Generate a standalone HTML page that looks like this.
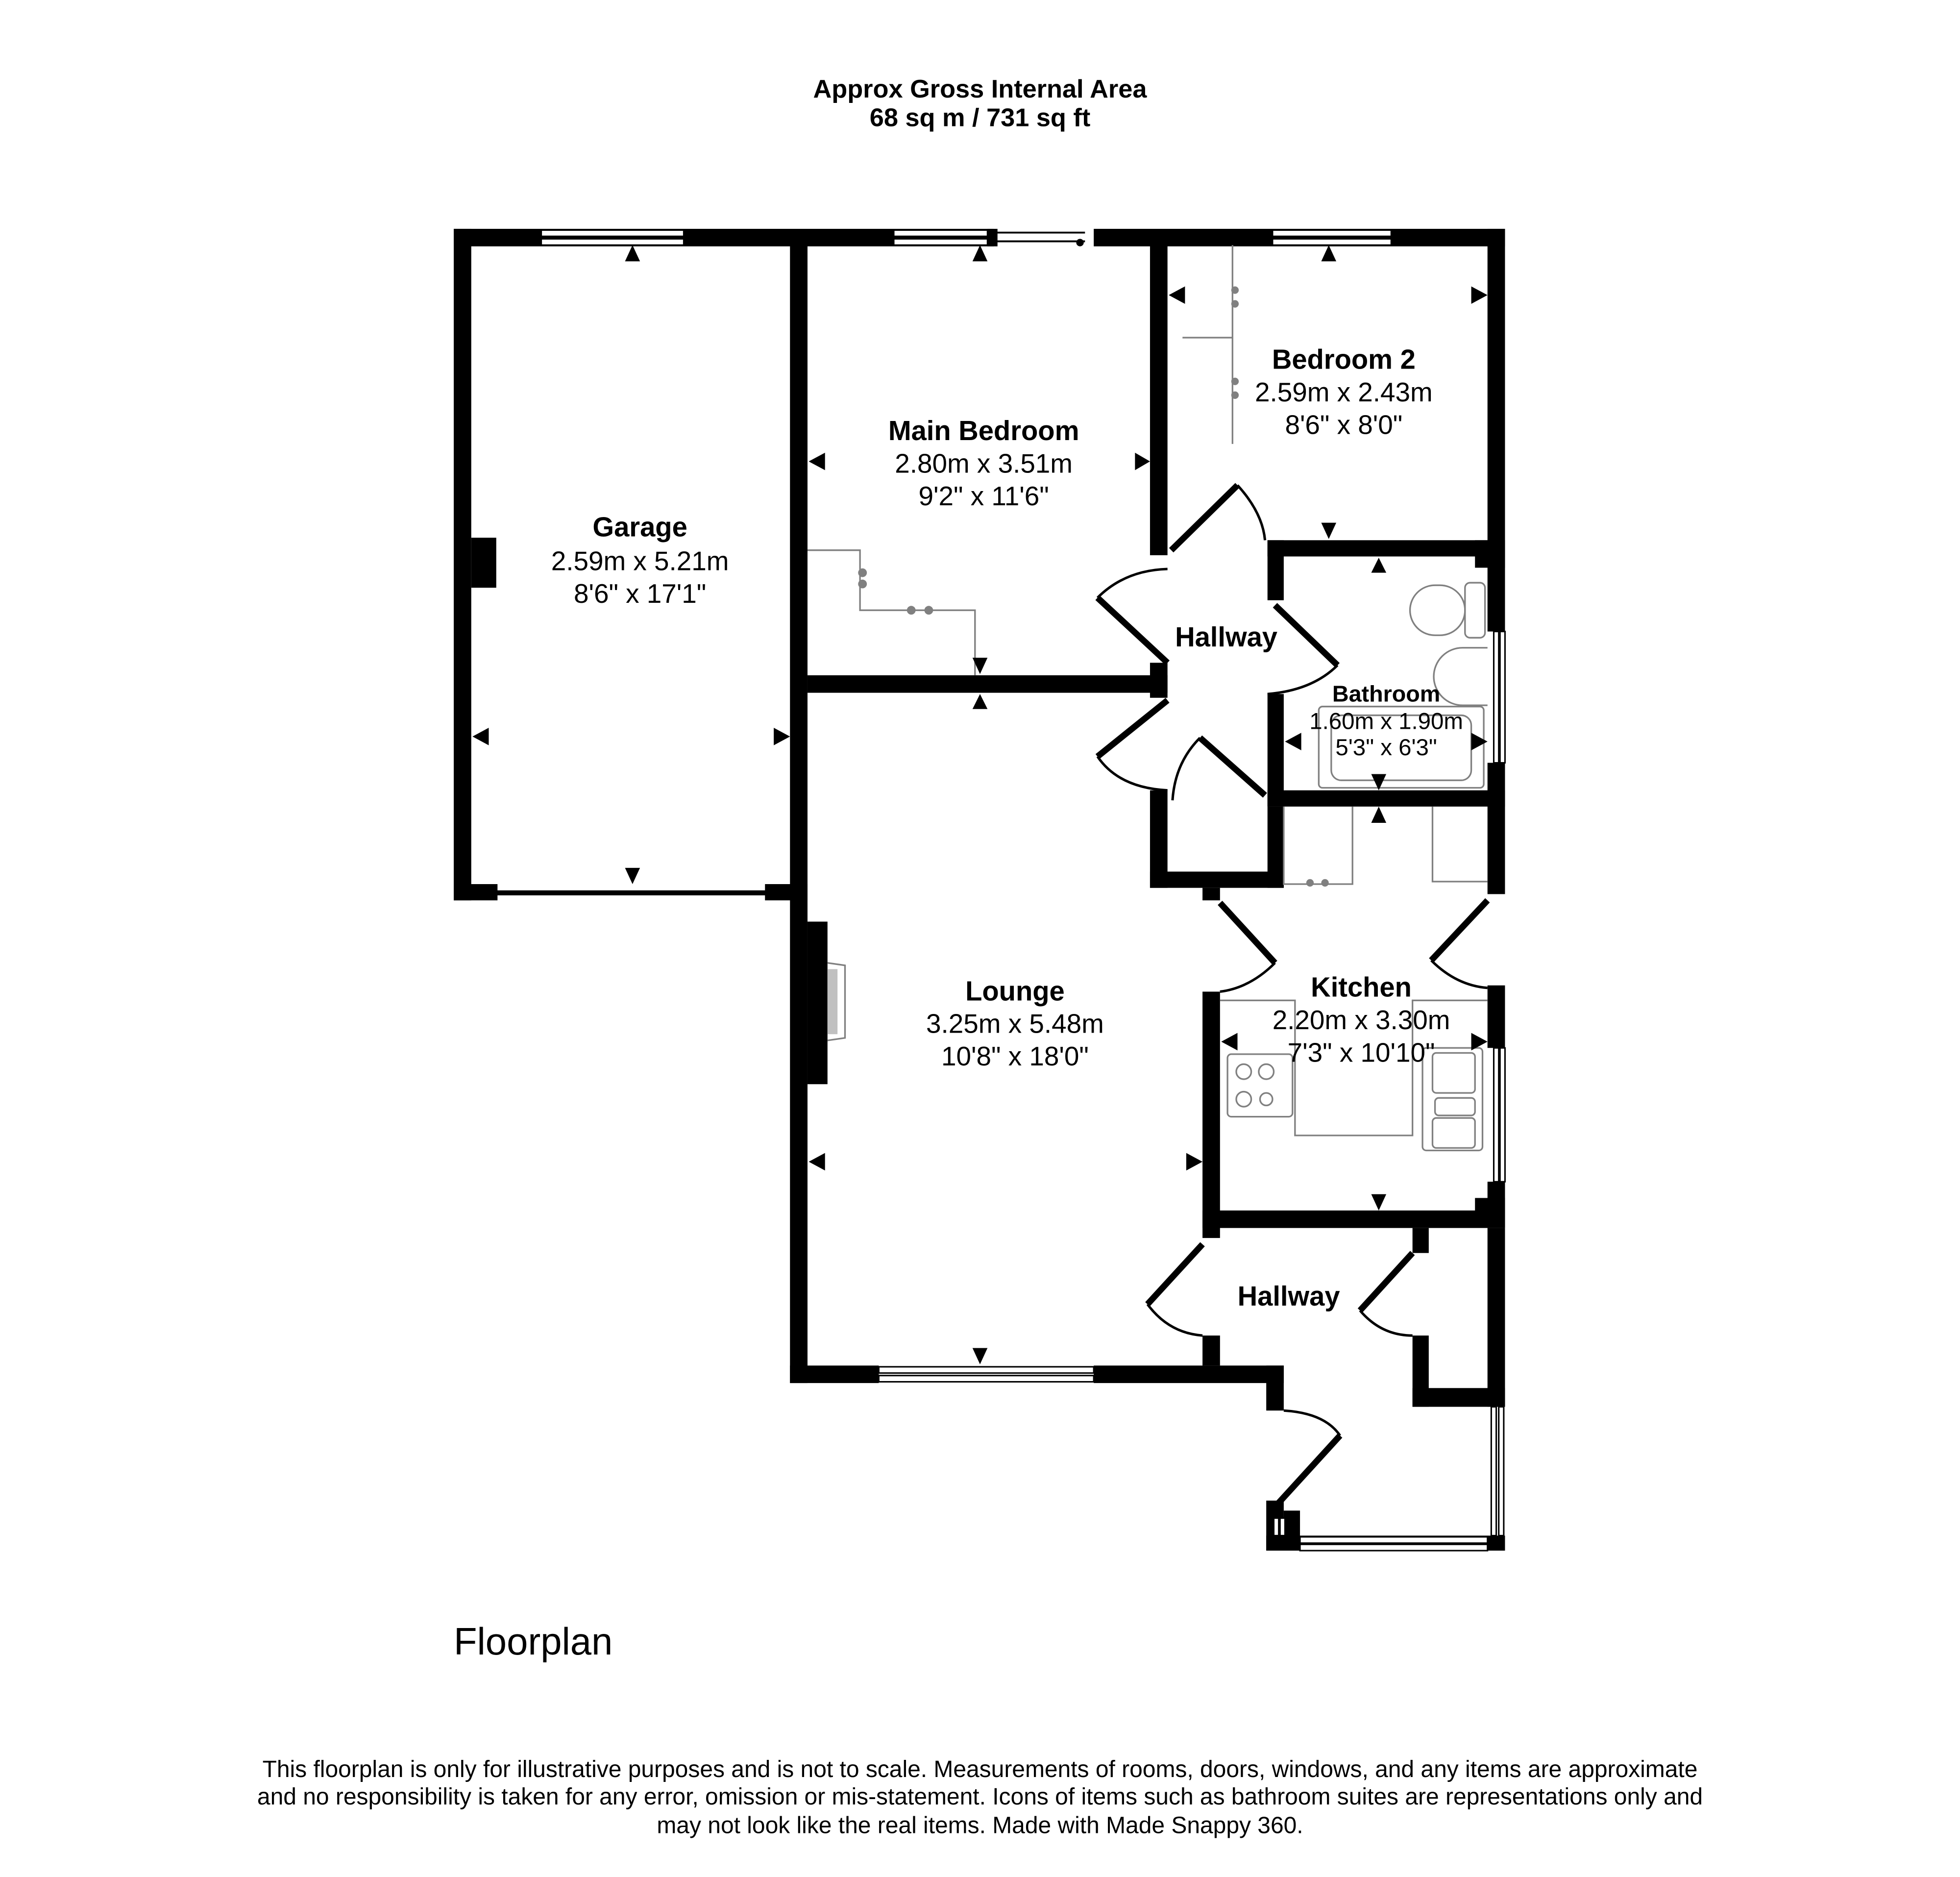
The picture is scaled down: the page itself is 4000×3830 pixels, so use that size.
<!DOCTYPE html>
<html><head><meta charset="utf-8"><style>
html,body{margin:0;padding:0;background:#fff}
svg{display:block}
text{font-family:"Liberation Sans",Arial,sans-serif;fill:#000}
.b{font-weight:bold}
</style></head><body>
<svg width="4000" height="3830" viewBox="0 0 1568 1501" preserveAspectRatio="none" xmlns="http://www.w3.org/2000/svg">
<rect width="1568" height="1501" fill="#fff"/>
<text x="784" y="78" text-anchor="middle" class="b" font-size="20.5">Approx Gross Internal Area</text>
<text x="784" y="101" text-anchor="middle" class="b" font-size="20.5">68 sq m / 731 sq ft</text>

<g fill="#000">
<rect x="363" y="183" width="432" height="14"/>
<rect x="875" y="183" width="329" height="14"/>
<rect x="363" y="183" width="14" height="537"/>
<rect x="377" y="430" width="20" height="40"/>
<rect x="363" y="707" width="35" height="13"/>
<rect x="612" y="707" width="34" height="13"/>
<rect x="391" y="712" width="222" height="4"/>
<rect x="632" y="196" width="14" height="910"/>
<rect x="646" y="737" width="16" height="130"/>
<rect x="646" y="540" width="288" height="14"/>
<rect x="920" y="196" width="14" height="248"/>
<rect x="920" y="530" width="14" height="28"/>
<rect x="1190" y="183" width="14" height="262"/>
<rect x="1014" y="432" width="190" height="13"/>
<rect x="1180" y="432" width="24" height="22"/>
<rect x="1014" y="432" width="13" height="48"/>
<rect x="1014" y="555" width="13" height="90"/>
<rect x="1190" y="445" width="14" height="60"/>
<rect x="1190" y="610" width="14" height="105"/>
<rect x="1014" y="632" width="190" height="13"/>
<rect x="920" y="632" width="14" height="78"/>
<rect x="920" y="697" width="107" height="13"/>
<rect x="1014" y="645" width="13" height="65"/>
<rect x="962" y="710" width="14" height="10"/>
<rect x="962" y="793" width="14" height="197"/>
<rect x="1190" y="788" width="14" height="50"/>
<rect x="1190" y="945" width="14" height="37"/>
<rect x="962" y="968" width="242" height="14"/>
<rect x="1180" y="958" width="24" height="12"/>
<rect x="1190" y="982" width="14" height="143"/>
<rect x="1130" y="982" width="13" height="20"/>
<rect x="1130" y="1068" width="13" height="57"/>
<rect x="1130" y="1110" width="74" height="15"/>
<rect x="962" y="1068" width="14" height="24"/>
<rect x="632" y="1092" width="71" height="14"/>
<rect x="875" y="1092" width="152" height="14"/>
<rect x="1013" y="1092" width="14" height="36"/>
<rect x="1013" y="1200" width="14" height="40"/>
<rect x="1027" y="1208" width="13" height="32"/>
<rect x="1013" y="1228" width="191" height="12"/>
</g>
<g fill="#fff" stroke="#000" stroke-width="1.2">
<rect x="433" y="184" width="114" height="5"/><rect x="433" y="191" width="114" height="5"/>
<rect x="715" y="184" width="75" height="5"/><rect x="715" y="191" width="75" height="5"/>
<rect x="1018" y="184" width="95" height="5"/><rect x="1018" y="191" width="95" height="5"/>
<rect x="703" y="1093" width="172" height="5"/><rect x="703" y="1100" width="172" height="5"/>
<rect x="1040" y="1229" width="150" height="5"/><rect x="1040" y="1235" width="150" height="5"/>
<rect x="1195" y="505" width="4" height="105"/><rect x="1200" y="505" width="4" height="105"/>
<rect x="1195" y="838" width="4" height="107"/><rect x="1200" y="838" width="4" height="107"/>
<rect x="1193" y="1125" width="4" height="103"/><rect x="1199" y="1125" width="4" height="103"/>
<rect x="1019" y="1214" width="4" height="14"/><rect x="1024" y="1214" width="4" height="14"/>
</g>
<line x1="797" y1="186" x2="868" y2="186" stroke="#000" stroke-width="1.5"/>
<line x1="797" y1="193" x2="868" y2="193" stroke="#000" stroke-width="1.5"/>
<circle cx="864" cy="194" r="3" fill="#000"/>
<rect x="790" y="183" width="8" height="14" fill="#000"/>

<g stroke="#000" fill="none">
<g stroke-width="5">
<line x1="937" y1="440" x2="990" y2="388"/>
<line x1="878" y1="478" x2="934" y2="530"/>
<line x1="1020" y1="484" x2="1070" y2="532"/>
<line x1="934" y1="560" x2="878" y2="605"/>
<line x1="960" y1="590" x2="1012" y2="636"/>
<line x1="976" y1="722" x2="1020" y2="770"/>
<line x1="1190" y1="720" x2="1145" y2="768"/>
<line x1="962" y1="995" x2="918" y2="1043"/>
<line x1="1130" y1="1002" x2="1088" y2="1048"/>
<line x1="1072" y1="1148" x2="1020" y2="1205"/>
</g>
<g stroke-width="2">
<path d="M990,388 Q1010,410 1012,432"/>
<path d="M878,478 Q900,456 934,455"/>
<path d="M1070,532 Q1050,552 1014,555"/>
<path d="M878,605 Q895,630 934,632"/>
<path d="M960,590 Q940,610 938,640"/>
<path d="M1020,770 Q1000,790 976,793"/>
<path d="M1145,768 Q1165,788 1190,790"/>
<path d="M918,1043 Q935,1066 962,1068"/>
<path d="M1088,1048 Q1105,1068 1130,1068"/>
<path d="M1072,1148 Q1060,1130 1027,1128"/>
</g>
</g>

<g stroke="#808080" fill="none" stroke-width="1.3">
<path d="M646,440 H688 V488 H780 V540"/>
<path d="M986,196 V355 M946,270 H986"/>
<rect x="1128" y="468" width="44" height="40" rx="20"/><rect x="1172" y="466" width="16" height="44" rx="4"/>
<path d="M1190,518 H1170 A22,22 0 0 0 1170,564 H1190"/>
<rect x="1055" y="565" width="132" height="65" rx="3"/><rect x="1065" y="572" width="112" height="52" rx="8"/>
<path d="M1027,645 V707 H1082 V645 M1146,645 V705 H1190"/>
<path d="M976,800 H1036 V908 H1130 V800 H1190"/>
<rect x="982" y="843" width="52" height="50" rx="3"/>
<circle cx="995" cy="857" r="6"/><circle cx="1013" cy="857" r="6"/><circle cx="995" cy="879" r="6"/><circle cx="1013" cy="879" r="5"/>
<rect x="1138" y="838" width="48" height="82" rx="3"/><rect x="1146" y="842" width="34" height="32" rx="3"/><rect x="1148" y="878" width="32" height="14" rx="3"/><rect x="1146" y="894" width="34" height="24" rx="3"/>
<path d="M662,770 L676,772 V830 L662,832"/>
</g>
<rect x="662" y="775" width="8" height="52" fill="#c0c0c0"/>
<g fill="#808080"><circle cx="690" cy="458" r="3.5"/><circle cx="690" cy="467" r="3.5"/><circle cx="729" cy="488" r="3.5"/><circle cx="743" cy="488" r="3.5"/><circle cx="988" cy="232" r="3"/><circle cx="988" cy="243" r="3"/><circle cx="988" cy="305" r="3"/><circle cx="988" cy="316" r="3"/><circle cx="1048" cy="706" r="3"/><circle cx="1060" cy="706" r="3"/></g>

<g fill="#000">
<path d="M500,209 L506,196 L512,209Z"/>
<path d="M778,209 L784,196 L790,209Z"/>
<path d="M1057,209 L1063,196 L1069,209Z"/>
<path d="M660,362 L647,369 L660,376Z"/>
<path d="M908,362 L920,369 L908,376Z"/>
<path d="M948,229 L935,236 L948,243Z"/>
<path d="M1177,229 L1190,236 L1177,243Z"/>
<path d="M1057,418 L1063,431 L1069,418Z"/>
<path d="M778,526 L784,539 L790,526Z"/>
<path d="M778,567 L784,555 L790,567Z"/>
<path d="M391,582 L378,589 L391,596Z"/>
<path d="M619,582 L632,589 L619,596Z"/>
<path d="M500,694 L506,707 L512,694Z"/>
<path d="M1097,458 L1103,446 L1109,458Z"/>
<path d="M1041,586 L1028,593 L1041,600Z"/>
<path d="M1177,586 L1190,593 L1177,600Z"/>
<path d="M1097,619 L1103,632 L1109,619Z"/>
<path d="M1097,658 L1103,645 L1109,658Z"/>
<path d="M990,826 L977,833 L990,840Z"/>
<path d="M1177,826 L1190,833 L1177,840Z"/>
<path d="M1097,955 L1103,968 L1109,955Z"/>
<path d="M660,922 L647,929 L660,936Z"/>
<path d="M949,922 L962,929 L949,936Z"/>
<path d="M778,1078 L784,1091 L790,1078Z"/>
</g>

<g text-anchor="middle">
<text x="512" y="429" class="b" font-size="22">Garage</text>
<text x="512" y="456" font-size="21.5">2.59m x 5.21m</text>
<text x="512" y="482" font-size="21.5">8'6" x 17'1"</text>
<text x="787" y="352" class="b" font-size="22">Main Bedroom</text>
<text x="787" y="378" font-size="21.5">2.80m x 3.51m</text>
<text x="787" y="404" font-size="21.5">9'2" x 11'6"</text>
<text x="1075" y="295" class="b" font-size="22">Bedroom 2</text>
<text x="1075" y="321" font-size="21.5">2.59m x 2.43m</text>
<text x="1075" y="347" font-size="21.5">8'6" x 8'0"</text>
<text x="981" y="517" class="b" font-size="22">Hallway</text>
<text x="1109" y="561" class="b" font-size="18.3">Bathroom</text>
<text x="1109" y="583" font-size="18.6">1.60m x 1.90m</text>
<text x="1109" y="604" font-size="18.6">5'3" x 6'3"</text>
<text x="812" y="800" class="b" font-size="22">Lounge</text>
<text x="812" y="826" font-size="21.5">3.25m x 5.48m</text>
<text x="812" y="852" font-size="21.5">10'8" x 18'0"</text>
<text x="1089" y="797" class="b" font-size="22">Kitchen</text>
<text x="1089" y="823" font-size="21.5">2.20m x 3.30m</text>
<text x="1089" y="849" font-size="21.5">7'3" x 10'10"</text>
<text x="1031" y="1044" class="b" font-size="22">Hallway</text>
</g>
<text x="363" y="1323" font-size="30.5">Floorplan</text>
<g text-anchor="middle" font-size="18.8">
<text x="784" y="1421">This floorplan is only for illustrative purposes and is not to scale. Measurements of rooms, doors, windows, and any items are approximate</text>
<text x="784" y="1443">and no responsibility is taken for any error, omission or mis-statement. Icons of items such as bathroom suites are representations only and</text>
<text x="784" y="1466">may not look like the real items. Made with Made Snappy 360.</text>
</g>
</svg>
</body></html>
